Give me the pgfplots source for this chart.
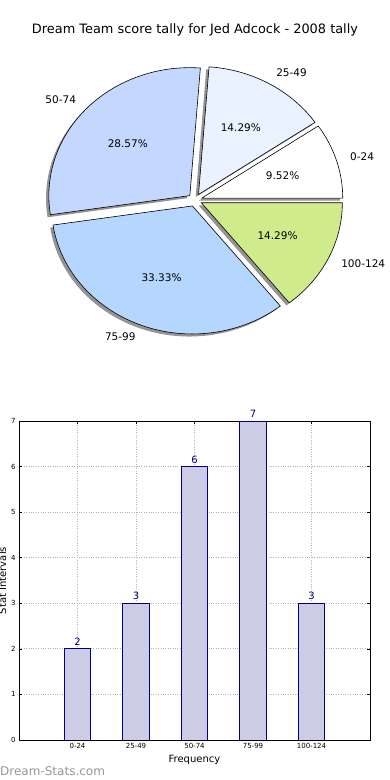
\documentclass[border=0pt]{standalone}
\usepackage{pgfplots}
\pgfplotsset{compat=1.18}
\usepackage{pgfplotstable}
\usepackage{fontspec}
\setmainfont{DejaVu Sans}
\definecolor{c0}{RGB}{255,255,255}
\definecolor{c1}{RGB}{234,241,255}
\definecolor{c2}{RGB}{196,216,255}
\definecolor{c3}{RGB}{181,214,255}
\definecolor{c4}{RGB}{207,235,140}
\definecolor{barfill}{RGB}{204,204,230}
\definecolor{navyc}{RGB}{0,0,128}
\definecolor{gridc}{RGB}{180,180,180}
\definecolor{wmark}{RGB}{150,150,150}

\pgfplotstableread{
idx label count
0 0-24 2
1 25-49 3
2 50-74 6
3 75-99 7
4 100-124 3
}\bardata

% pie data: count/colour/label/percentage text
\def\piedata{2/c0/0-24/9.52\%,3/c1/25-49/14.29\%,6/c2/50-74/28.57\%,7/c3/75-99/33.33\%,3/c4/100-124/14.29\%}

\begin{document}
\begin{tikzpicture}[x=1pt,y=1pt]
\path[use as bounding box] (0,0) rectangle (390,780);
\node[font=\fontsize{12.9}{15}\selectfont, anchor=center] at (195,750) {Dream Team score tally for Jed Adcock - 2008 tally};

\begin{axis}[hide axis, x=141pt, y=128pt, xmin=-1.3, xmax=1.3, ymin=-1.2, ymax=1.2,
  at={(195pt,580pt)}, anchor=origin, clip=false]
\pgfplotsextra{
  % total
  \gdef\total{0}
  \foreach \v/\c/\l/\p in \piedata {\pgfmathsetmacro\t{\total+\v}\xdef\total{\t}}
  % shadows
  \gdef\cum{0}
  \foreach \v/\c/\l/\p in \piedata {
    \pgfmathsetmacro\aa{\cum*360/\total}
    \pgfmathsetmacro\bb{(\cum+\v)*360/\total}
    \pgfmathsetmacro\mm{(\aa+\bb)/2}
    \pgfmathsetmacro\ox{0.05*cos(\mm)-0.02}
    \pgfmathsetmacro\oy{0.05*sin(\mm)-0.02}
    \fill[black, opacity=0.42] (axis cs:\ox,\oy) -- (axis cs:{\ox+cos(\aa)},{\oy+sin(\aa)})
      arc[start angle=\aa, end angle=\bb, x radius=141pt, y radius=128pt] -- cycle;
    \pgfmathsetmacro\nc{\cum+\v}\xdef\cum{\nc}
  }
  % wedges
  \gdef\cum{0}
  \foreach \v/\c/\l/\p in \piedata {
    \pgfmathsetmacro\aa{\cum*360/\total}
    \pgfmathsetmacro\bb{(\cum+\v)*360/\total}
    \pgfmathsetmacro\mm{(\aa+\bb)/2}
    \pgfmathsetmacro\ox{0.05*cos(\mm)}
    \pgfmathsetmacro\oy{0.05*sin(\mm)}
    \filldraw[fill=\c, draw=black, line width=0.6pt, line join=miter] (axis cs:\ox,\oy) -- (axis cs:{\ox+cos(\aa)},{\oy+sin(\aa)})
      arc[start angle=\aa, end angle=\bb, x radius=141pt, y radius=128pt] -- cycle;
    \pgfmathsetmacro\nc{\cum+\v}\xdef\cum{\nc}
  }
  % labels
  \gdef\cum{0}
  \foreach \v/\c/\l/\p in \piedata {
    \pgfmathsetmacro\aa{\cum*360/\total}
    \pgfmathsetmacro\bb{(\cum+\v)*360/\total}
    \pgfmathsetmacro\mm{(\aa+\bb)/2}
    \pgfmathsetmacro\ox{0.05*cos(\mm)}
    \pgfmathsetmacro\oy{0.05*sin(\mm)}
    \pgfmathsetmacro\cs{cos(\mm)}
    \pgfmathparse{\cs>0?1:0}
    \ifnum\pgfmathresult=1 \def\anc{west}\else\def\anc{east}\fi
    \node[font=\fontsize{10.5}{12}\selectfont, anchor=\anc, inner sep=0pt] at (axis cs:{\ox+1.1*cos(\mm)},{\oy+1.1*sin(\mm)}) {\l};
    \node[font=\fontsize{10.5}{12}\selectfont, anchor=center, inner sep=0pt] at (axis cs:{\ox+0.6*cos(\mm)},{\oy+0.6*sin(\mm)}) {\p};
    \pgfmathsetmacro\nc{\cum+\v}\xdef\cum{\nc}
  }
}
\end{axis}

\begin{axis}[at={(19pt,40pt)}, anchor=south west, scale only axis, width=351pt, height=319pt,
  xmin=-1, xmax=5, ymin=0, ymax=7,
  xtick={0,...,4}, xticklabels={0-24,25-49,50-74,75-99,100-124},
  ytick={0,...,7},
  /pgf/number format/assume math mode=true,
  tick label style={font=\fontsize{7}{8}\selectfont},
  grid=major, grid style={gridc, dotted, line width=0.8pt},
  tick align=inside, major tick length=3pt, tick style={black, line width=0.5pt},
  xtick pos=both, ytick pos=both,
  axis line style={black, line width=0.8pt},
  xlabel={Frequency}, ylabel={Stat Intervals},
  label style={font=\fontsize{10}{12}\selectfont},
  xlabel style={at={(axis description cs:0.5,-0.048)}, anchor=north, inner sep=0pt},
  ylabel style={at={(axis description cs:-0.047,0.5)}, anchor=center, inner sep=0pt},
  axis on top=false]
\addplot[ybar, bar width=0.45, fill=barfill, draw=navyc, line width=0.8pt,
  nodes near coords, nodes near coords style={text=navyc, font=\fontsize{10}{12}\selectfont, inner sep=3pt}]
  table[x=idx, y=count]{\bardata};
\end{axis}

\node[anchor=base west, text=wmark, font=\fontsize{12}{14}\selectfont, inner sep=0pt] at (0,5) {Dream-Stats.com};
\end{tikzpicture}
\end{document}
